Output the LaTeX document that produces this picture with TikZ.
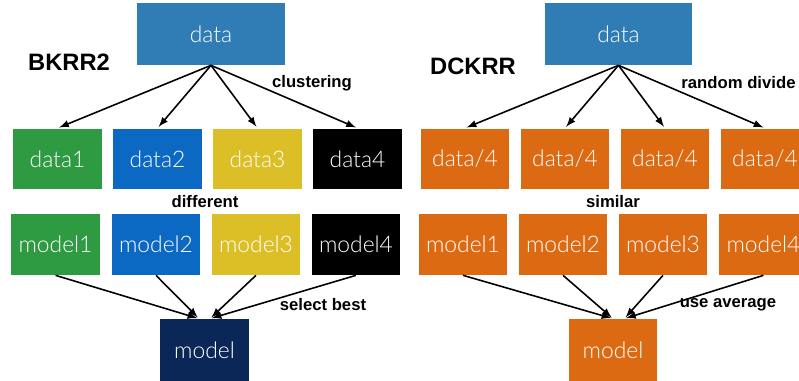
\documentclass[tikz,border=0pt]{standalone}
\usepackage{fontspec}
\setmainfont{Liberation Sans}
\newfontfamily\lightfont{Lato Light}
\usetikzlibrary{positioning}
\definecolor{steel}{HTML}{2F7DB4}
\definecolor{grn}{HTML}{2E9A42}
\definecolor{blu}{HTML}{0B68C3}
\definecolor{yel}{HTML}{DCBE26}
\definecolor{org}{HTML}{DC6A12}
\definecolor{navy}{HTML}{0A2757}
\begin{document}
\begin{tikzpicture}[x=0.02cm, y=-0.02cm,
	box/.style={minimum width=1.78cm, minimum height=1.22cm, inner sep=0pt, text=white, font=\lightfont\fontsize{13}{15}\selectfont},
	lbl/.style={font=\bfseries\fontsize{9.5}{11}\selectfont},
	ttl/.style={font=\bfseries\fontsize{13.5}{16}\selectfont},
	arr/.style={->, >=latex, line width=0.9pt, shorten >=1pt}]
	\clip (0,0) rectangle (799,381);
	\node[box, fill=steel, minimum width=2.96cm, minimum height=1.24cm] (dataL) at (211,34) {data};
	\node[ttl] (bkrr) at (69,62) {BKRR2};
	\node[box, fill=grn] (d1) at (57.5,159) {data1};
	\node[box, fill=blu] (d2) at (157.5,159) {data2};
	\node[box, fill=yel] (d3) at (257.5,159) {data3};
	\node[box, fill=black] (d4) at (357.5,159) {data4};
	\node[box, fill=grn] (m1) at (55.5,244.5) {model1};
	\node[box, fill=blu] (m2) at (156,244.5) {model2};
	\node[box, fill=yel] (m3) at (256,244.5) {model3};
	\node[box, fill=black] (m4) at (356,244.5) {model4};
	\node[box, fill=navy, minimum height=1.24cm] (modelL) at (204.5,350) {model};
	\node[lbl] (clust) at (312,83) {clustering};
	\node[lbl] (diff) at (205,202) {different};
	\node[lbl] (best) at (323,305) {select best};
	\draw[arr] (dataL.south) -- (d1.north);
	\draw[arr] (dataL.south) -- (d2.north);
	\draw[arr] (dataL.south) -- (d3.north);
	\draw[arr] (dataL.south) -- (d4.north);
	\draw[arr] (m1.south) -- (modelL.100);
	\draw[arr] (m2.south) -- (modelL.100);
	\draw[arr] (m3.south) -- (modelL.80);
	\draw[arr] (m4.south) -- (modelL.80);
	\node[box, fill=steel, minimum width=2.96cm, minimum height=1.24cm] (dataR) at (618.5,34) {data};
	\node[ttl] (dckrr) at (473,66) {DCKRR};
	\node[box, fill=org] (q1) at (465,159) {data/4};
	\node[box, fill=org] (q2) at (565,159) {data/4};
	\node[box, fill=org] (q3) at (665,159) {data/4};
	\node[box, fill=org] (q4) at (765,159) {data/4};
	\node[box, fill=org] (n1) at (463,244.5) {model1};
	\node[box, fill=org] (n2) at (563,244.5) {model2};
	\node[box, fill=org] (n3) at (663,244.5) {model3};
	\node[box, fill=org] (n4) at (763.5,244.5) {model4};
	\node[box, fill=org, minimum height=1.24cm] (modelR) at (613,350) {model};
	\node[lbl] (rand) at (738.5,83) {random divide};
	\node[lbl] (sim) at (613,202) {similar};
	\node[lbl] (avg) at (728,305) {use average};
	\draw[arr] (dataR.south) -- (q1.north);
	\draw[arr] (dataR.south) -- (q2.north);
	\draw[arr] (dataR.south) -- (q3.north);
	\draw[arr] (dataR.south) -- (q4.north);
	\draw[arr] (n1.south) -- (modelR.90);
	\draw[arr] (n2.south) -- (modelR.90);
	\draw[arr] (n3.south) -- (modelR.70);
	\draw[arr] (n4.south) -- (modelR.70);
\end{tikzpicture}
\end{document}
